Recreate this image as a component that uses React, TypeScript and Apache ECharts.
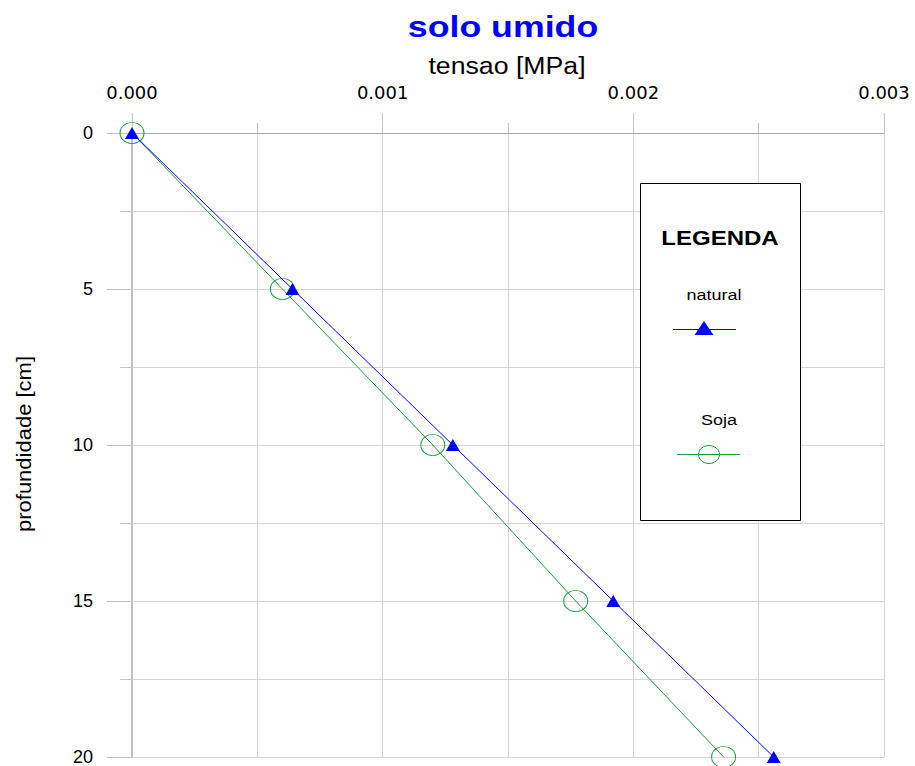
import React, { useEffect, useRef } from "react";
import * as echarts from "echarts";

const depthCm = [0, 5, 10, 15, 20];
const naturalTension = [0, 0.00064, 0.00128, 0.00192, 0.00256];
const sojaTension = [0, 0.0006, 0.0012, 0.00177, 0.00236];
const seriesNames = ["natural", "Soja"];
const chartTitle = "solo umido";
const xAxisTitle = "tensao [MPa]";
const yAxisTitle = "profundidade [cm]";
const legendTitle = "LEGENDA";

const BLUE = "#0000ff";
const GREEN = "#1a9e3c";
const FONT = "'Liberation Sans', Arial, sans-serif";
const WIDE_FONT = "'DejaVu Sans', sans-serif";

export default function App() {
  const ref = useRef<HTMLDivElement>(null);
  useEffect(() => {
    if (!ref.current) return;
    const chart = echarts.init(ref.current, null, { renderer: "svg" });
    const natural = depthCm.map((d, i) => [naturalTension[i], d]);
    const soja = depthCm.map((d, i) => [sojaTension[i], d]);
    const gridColor = "#d4d4d4";
    chart.setOption({
      animation: false,
      backgroundColor: "#ffffff",
      textStyle: { fontFamily: FONT },
      grid: { left: 132, right: 31, top: 133, bottom: 9, containLabel: false },
      xAxis: {
        type: "value",
        position: "top",
        min: 0,
        max: 0.003,
        interval: 0.001,
        axisLine: { show: true, lineStyle: { color: "#a8a8a8", width: 1 } },
        axisTick: { show: true, length: 20, lineStyle: { color: "#c4c4c4" } },
        minorTick: { show: true, splitNumber: 2, length: 10, lineStyle: { color: "#c4c4c4" } },
        splitLine: { show: true, lineStyle: { color: gridColor, width: 1 } },
        minorSplitLine: { show: true, lineStyle: { color: gridColor, width: 1 } },
        axisLabel: {
          margin: 32,
          fontSize: 18,
          color: "#000",
          fontFamily: WIDE_FONT,
          formatter: (v: number) => v.toFixed(3),
        },
      },
      yAxis: {
        type: "value",
        inverse: true,
        min: 0,
        max: 20,
        interval: 5,
        axisLine: { show: true, onZero: false, lineStyle: { color: "#c0c0c0", width: 2 } },
        axisTick: { show: true, length: 25, lineStyle: { color: "#c4c4c4" } },
        minorTick: { show: true, splitNumber: 2, length: 12, lineStyle: { color: "#c4c4c4" } },
        splitLine: { show: true, lineStyle: { color: gridColor, width: 1 } },
        minorSplitLine: { show: true, lineStyle: { color: gridColor, width: 1 } },
        axisLabel: { margin: 39, fontSize: 18, color: "#000", fontFamily: FONT },
      },
      series: [
        {
          name: seriesNames[1],
          type: "line",
          data: soja,
          symbol: "circle",
          symbolSize: [24, 21],
          lineStyle: { color: GREEN, width: 1 },
          itemStyle: { color: "transparent", borderColor: GREEN, borderWidth: 1 },
          z: 2,
        },
        {
          name: seriesNames[0],
          type: "line",
          data: natural,
          symbol: "triangle",
          symbolSize: [14, 12],
          lineStyle: { color: BLUE, width: 1 },
          itemStyle: { color: BLUE },
          z: 3,
        },
      ],
      graphic: [
        {
          type: "text",
          x: 503,
          y: 27,
          scaleX: 1.19,
          style: {
            text: chartTitle,
            fill: BLUE,
            font: `bold 30px ${FONT}`,
            textAlign: "center",
            textVerticalAlign: "middle",
          },
        },
        {
          type: "text",
          x: 507,
          y: 66,
          scaleX: 1.16,
          style: {
            text: xAxisTitle,
            fill: "#000",
            font: `23px ${FONT}`,
            textAlign: "center",
            textVerticalAlign: "middle",
          },
        },
        {
          type: "text",
          x: 24,
          y: 444,
          rotation: Math.PI / 2,
          scaleX: 1.1,
          style: {
            text: yAxisTitle,
            fill: "#000",
            font: `20px ${FONT}`,
            textAlign: "center",
            textVerticalAlign: "middle",
          },
        },
        {
          type: "rect",
          shape: { x: 640.5, y: 183.5, width: 160, height: 337 },
          style: { fill: "#ffffff", stroke: "#000", lineWidth: 1 },
          z: 10,
        },
        {
          type: "text",
          x: 720,
          y: 238,
          scaleX: 1.2,
          z: 11,
          style: {
            text: legendTitle,
            fill: "#000",
            font: `bold 20px ${FONT}`,
            textAlign: "center",
            textVerticalAlign: "middle",
          },
        },
        {
          type: "text",
          x: 714,
          y: 295,
          scaleX: 1.2,
          z: 11,
          style: {
            text: seriesNames[0],
            fill: "#000",
            font: `15px ${FONT}`,
            textAlign: "center",
            textVerticalAlign: "middle",
          },
        },
        {
          type: "line",
          z: 11,
          shape: { x1: 673, y1: 329.5, x2: 736, y2: 329.5 },
          style: { stroke: BLUE, lineWidth: 1 },
        },
        {
          type: "polygon",
          z: 12,
          shape: { points: [[704, 321], [713.5, 335], [694.5, 335]] },
          style: { fill: BLUE },
        },
        {
          type: "text",
          x: 719,
          y: 420,
          scaleX: 1.2,
          z: 11,
          style: {
            text: seriesNames[1],
            fill: "#000",
            font: `15px ${FONT}`,
            textAlign: "center",
            textVerticalAlign: "middle",
          },
        },
        {
          type: "line",
          z: 11,
          shape: { x1: 677, y1: 454.5, x2: 740, y2: 454.5 },
          style: { stroke: GREEN, lineWidth: 1 },
        },
        {
          type: "ellipse",
          z: 12,
          shape: { cx: 709, cy: 454.5, rx: 10.5, ry: 9 },
          style: { fill: "transparent", stroke: GREEN, lineWidth: 1 },
        },
      ],
    });
    return () => chart.dispose();
  }, []);
  return (
    <div
      ref={ref}
      style={{ position: "fixed", left: 0, top: 0, width: 915, height: 766, background: "#fff" }}
    />
  );
}
